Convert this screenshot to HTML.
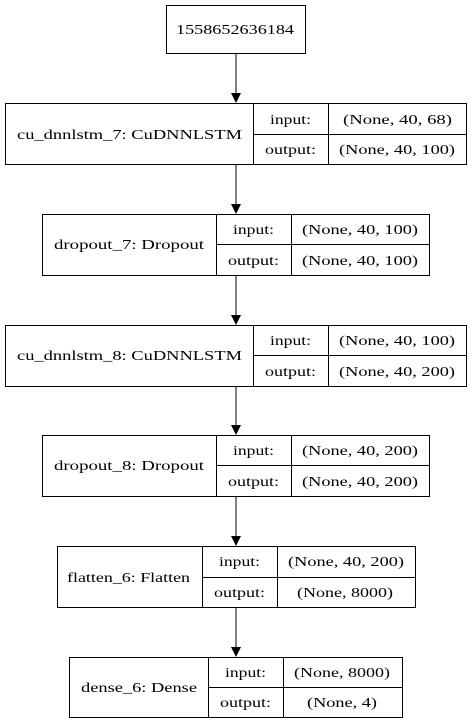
<!DOCTYPE html>
<html><head><meta charset="utf-8"><style>
html,body{margin:0;padding:0;background:#fff;}
svg{display:block}
svg text{font-family:"Liberation Serif","DejaVu Serif",serif;font-size:14px;fill:#000;}
</style></head><body>
<svg width="472" height="724" viewBox="0 0 472 724" xmlns="http://www.w3.org/2000/svg">
<g fill="none" stroke="#000" stroke-width="1">
<rect x="166.5" y="5.5" width="139" height="48"/>
<rect x="5.5" y="103.5" width="461" height="61"/>
<line x1="253.5" y1="103.5" x2="253.5" y2="164.5"/><line x1="328.5" y1="103.5" x2="328.5" y2="164.5"/><line x1="253.5" y1="134.5" x2="466.5" y2="134.5"/>
<rect x="42.5" y="214.5" width="387" height="61"/>
<line x1="216.5" y1="214.5" x2="216.5" y2="275.5"/><line x1="291.5" y1="214.5" x2="291.5" y2="275.5"/><line x1="216.5" y1="244.5" x2="429.5" y2="244.5"/>
<rect x="5.5" y="325.5" width="461" height="61"/>
<line x1="253.5" y1="325.5" x2="253.5" y2="386.5"/><line x1="328.5" y1="325.5" x2="328.5" y2="386.5"/><line x1="253.5" y1="355.5" x2="466.5" y2="355.5"/>
<rect x="42.5" y="435.5" width="387" height="61"/>
<line x1="216.5" y1="435.5" x2="216.5" y2="496.5"/><line x1="291.5" y1="435.5" x2="291.5" y2="496.5"/><line x1="216.5" y1="465.5" x2="429.5" y2="465.5"/>
<rect x="57.5" y="546.5" width="358" height="61"/>
<line x1="202.5" y1="546.5" x2="202.5" y2="607.5"/><line x1="277.5" y1="546.5" x2="277.5" y2="607.5"/><line x1="202.5" y1="577.5" x2="415.5" y2="577.5"/>
<rect x="69.5" y="657.5" width="333" height="60"/>
<line x1="208.5" y1="657.5" x2="208.5" y2="717.5"/><line x1="283.5" y1="657.5" x2="283.5" y2="717.5"/><line x1="208.5" y1="687.5" x2="402.5" y2="687.5"/>
<line x1="236" y1="54" x2="236" y2="93"/>
<line x1="236" y1="165" x2="236" y2="204"/>
<line x1="236" y1="276" x2="236" y2="315"/>
<line x1="236" y1="387" x2="236" y2="425"/>
<line x1="236" y1="497" x2="236" y2="536"/>
<line x1="236" y1="608" x2="236" y2="647"/>
</g>
<g fill="#000">
<polygon points="231,93 241,93 236,103"/>
<polygon points="231,204 241,204 236,214"/>
<polygon points="231,315 241,315 236,325"/>
<polygon points="231,425 241,425 236,435"/>
<polygon points="231,536 241,536 236,546"/>
<polygon points="231,647 241,647 236,657"/>
</g>
<g text-anchor="middle" lengthAdjust="spacingAndGlyphs">
<text x="235" y="34" textLength="118" lengthAdjust="spacingAndGlyphs">1558652636184</text>

<text x="129.5" y="139" textLength="225" lengthAdjust="spacingAndGlyphs">cu_dnnlstm_7: CuDNNLSTM</text>
<text x="290.5" y="124" textLength="41" lengthAdjust="spacingAndGlyphs">input:</text><text x="397.5" y="124" textLength="109" lengthAdjust="spacingAndGlyphs">(None, 40, 68)</text>
<text x="290.5" y="154" textLength="51" lengthAdjust="spacingAndGlyphs">output:</text><text x="397" y="154" textLength="116" lengthAdjust="spacingAndGlyphs">(None, 40, 100)</text>

<text x="129" y="249" textLength="150" lengthAdjust="spacingAndGlyphs">dropout_7: Dropout</text>
<text x="253.5" y="234" textLength="41" lengthAdjust="spacingAndGlyphs">input:</text><text x="360" y="234" textLength="116" lengthAdjust="spacingAndGlyphs">(None, 40, 100)</text>
<text x="253.5" y="265" textLength="51" lengthAdjust="spacingAndGlyphs">output:</text><text x="360" y="265" textLength="116" lengthAdjust="spacingAndGlyphs">(None, 40, 100)</text>

<text x="129.5" y="360" textLength="225" lengthAdjust="spacingAndGlyphs">cu_dnnlstm_8: CuDNNLSTM</text>
<text x="290.5" y="345" textLength="41" lengthAdjust="spacingAndGlyphs">input:</text><text x="397" y="345" textLength="116" lengthAdjust="spacingAndGlyphs">(None, 40, 100)</text>
<text x="290.5" y="376" textLength="51" lengthAdjust="spacingAndGlyphs">output:</text><text x="397" y="376" textLength="116" lengthAdjust="spacingAndGlyphs">(None, 40, 200)</text>

<text x="129" y="470" textLength="150" lengthAdjust="spacingAndGlyphs">dropout_8: Dropout</text>
<text x="253.5" y="455" textLength="41" lengthAdjust="spacingAndGlyphs">input:</text><text x="360" y="455" textLength="116" lengthAdjust="spacingAndGlyphs">(None, 40, 200)</text>
<text x="253.5" y="486" textLength="51" lengthAdjust="spacingAndGlyphs">output:</text><text x="360" y="486" textLength="116" lengthAdjust="spacingAndGlyphs">(None, 40, 200)</text>

<text x="128.5" y="582" textLength="123" lengthAdjust="spacingAndGlyphs">flatten_6: Flatten</text>
<text x="239.5" y="566" textLength="41" lengthAdjust="spacingAndGlyphs">input:</text><text x="346" y="566" textLength="116" lengthAdjust="spacingAndGlyphs">(None, 40, 200)</text>
<text x="239.5" y="597" textLength="51" lengthAdjust="spacingAndGlyphs">output:</text><text x="345" y="597" textLength="96" lengthAdjust="spacingAndGlyphs">(None, 8000)</text>

<text x="139" y="692" textLength="116" lengthAdjust="spacingAndGlyphs">dense_6: Dense</text>
<text x="245.5" y="677" textLength="41" lengthAdjust="spacingAndGlyphs">input:</text><text x="342" y="677" textLength="96" lengthAdjust="spacingAndGlyphs">(None, 8000)</text>
<text x="245.5" y="707" textLength="51" lengthAdjust="spacingAndGlyphs">output:</text><text x="342" y="707" textLength="70" lengthAdjust="spacingAndGlyphs">(None, 4)</text>
</g>
</svg>
</body></html>
